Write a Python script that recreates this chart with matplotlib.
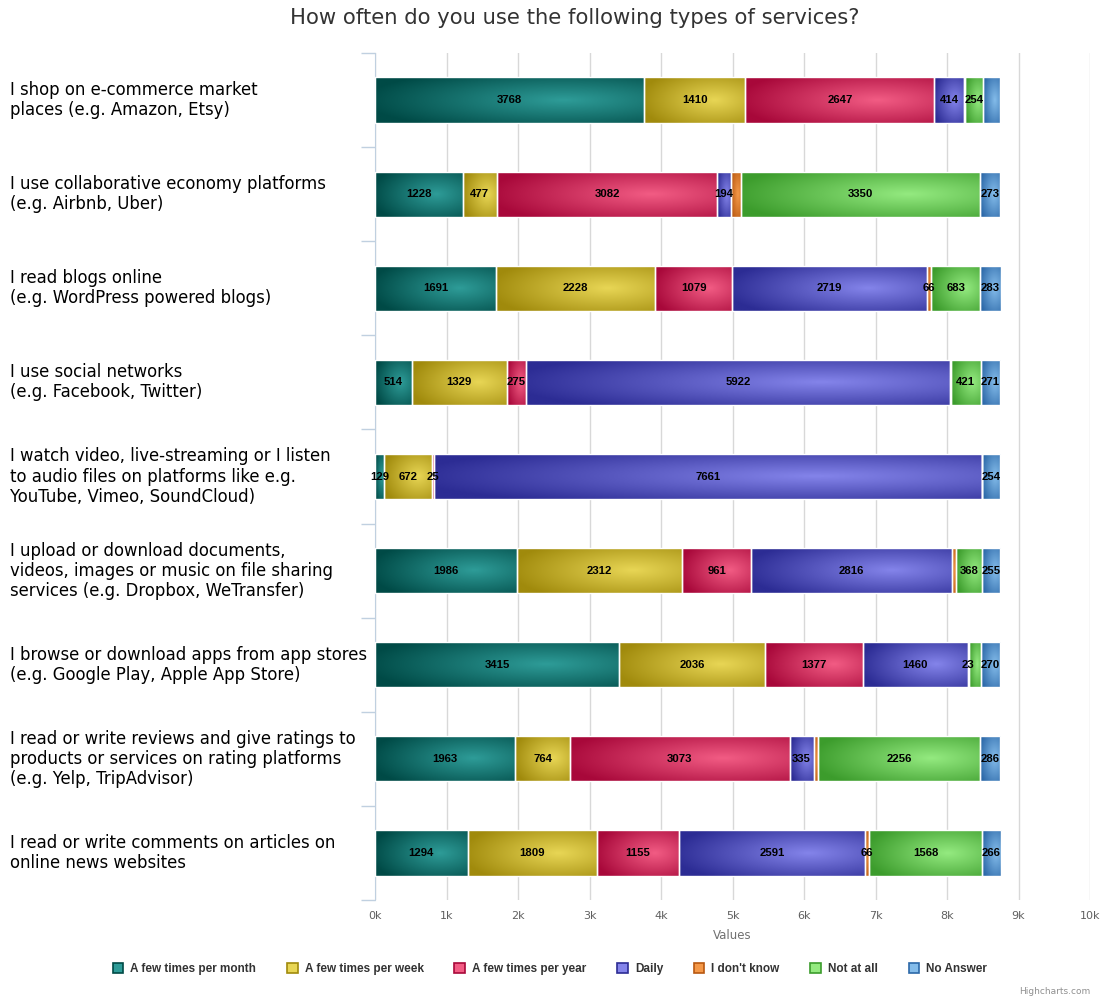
import numpy as np
import matplotlib
matplotlib.use("Agg")
import matplotlib.pyplot as plt
from matplotlib.colors import LinearSegmentedColormap
from matplotlib.patches import Patch
import matplotlib.transforms as mtransforms

categories = [
    "I shop on e-commerce market\nplaces (e.g. Amazon, Etsy)",
    "I use collaborative economy platforms\n(e.g. Airbnb, Uber)",
    "I read blogs online\n(e.g. WordPress powered blogs)",
    "I use social networks\n(e.g. Facebook, Twitter)",
    "I watch video, live-streaming or I listen\nto audio files on platforms like e.g.\nYouTube, Vimeo, SoundCloud)",
    "I upload or download documents,\nvideos, images or music on file sharing\nservices (e.g. Dropbox, WeTransfer)",
    "I browse or download apps from app stores\n(e.g. Google Play, Apple App Store)",
    "I read or write reviews and give ratings to\nproducts or services on rating platforms\n(e.g. Yelp, TripAdvisor)",
    "I read or write comments on articles on\nonline news websites",
]

series_names = ["A few times per month", "A few times per week", "A few times per year",
                "Daily", "I don't know", "Not at all", "No Answer"]

per_month = [3768, 1228, 1691, 514, 129, 1986, 3415, 1963, 1294]
per_week = [1410, 477, 2228, 1329, 672, 2312, 2036, 764, 1809]
per_year = [2647, 3082, 1079, 275, 25, 961, 1377, 3073, 1155]
daily = [414, 194, 2719, 5922, 7661, 2816, 1460, 335, 2591]
dont_know = [10, 136, 66, 9, 0, 45, 23, 64, 66]
not_at_all = [254, 3350, 683, 421, 0, 368, 160, 2256, 1568]
no_answer = [237, 273, 283, 271, 254, 255, 270, 286, 266]

# labels highcharts dropped (overlap)
hidden_labels = [(0, 4), (0, 6), (1, 4), (3, 4), (5, 4), (6, 5), (7, 4)]

# (edge colour, centre colour) for the radial gradient look
colors = [
    ("#004a46", "#2e9c98"),
    ("#a08a0c", "#e8d655"),
    ("#a8083a", "#f25c84"),
    ("#2c2c94", "#8484ea"),
    ("#b85810", "#f49848"),
    ("#3c9c2c", "#94ea80"),
    ("#2c68a8", "#84bcea"),
]

data = [per_month, per_week, per_year, daily, dont_know, not_at_all, no_answer]

fig = plt.figure(figsize=(11, 10), dpi=100)
ax = fig.add_axes([375 / 1100, 0.1, 715 / 1100, 0.847])

y = np.arange(len(categories))
left = np.zeros(len(categories))

# radial gradient grid
u, v = np.meshgrid(np.linspace(0, 1, 120), np.linspace(0, 1, 40))
dist = np.clip(np.sqrt((u - 0.7) ** 2 + (v - 0.5) ** 2) / 0.75, 0, 1)

for i, (vals, name) in enumerate(zip(data, series_names)):
    vals = np.array(vals, dtype=float)
    cmap = LinearSegmentedColormap.from_list(name, [colors[i][1], colors[i][0]])
    bars = ax.barh(y, vals, left=left, height=0.48, facecolor="none",
                   edgecolor="white", linewidth=1, zorder=3)
    for j, bar in enumerate(bars):
        if vals[j] <= 0:
            continue
        x0, y0 = bar.get_x(), bar.get_y()
        w, h = bar.get_width(), bar.get_height()
        im = ax.imshow(dist, cmap=cmap, vmin=0, vmax=1, aspect="auto",
                       extent=[x0, x0 + w, y0 + h, y0], zorder=2,
                       interpolation="bilinear")
        im.set_clip_path(bar)
        if (j, i) not in hidden_labels:
            ax.text(x0 + w / 2, j, f"{int(vals[j])}", ha="center", va="center",
                    fontsize=8.2, fontweight="bold", family="Liberation Sans",
                    color="black", zorder=4)
    left += vals

ax.set_xlim(0, 10000)
ax.set_ylim(len(categories) - 0.5, -0.5)
ax.set_xticks(np.arange(0, 10001, 1000))
ax.set_xticklabels([f"{k}k" for k in range(11)], color="#606060", fontsize=8)
ax.tick_params(axis="x", length=0, pad=8)
ax.set_xlabel("Values", color="#707070", fontsize=8.5, labelpad=6)
ax.grid(axis="x", color="#d8d8d8", linewidth=1, zorder=0)
ax.set_axisbelow(True)

ax.set_yticks(np.arange(-0.5, len(categories), 1.0))
ax.set_yticklabels([])
ax.tick_params(axis="y", length=10, color="#c0d0e0", width=1)
for side in ["top", "right", "bottom"]:
    ax.spines[side].set_visible(False)
ax.spines["left"].set_color("#c0d0e0")

trans = mtransforms.blended_transform_factory(fig.transFigure, ax.transData)
for j, cat in enumerate(categories):
    ax.text(10 / 1100, j, cat, transform=trans, ha="left", va="center",
            fontsize=11.9, color="black", linespacing=1.15, family="DejaVu Sans")

fig.text(575 / 1100, 1 - 18 / 1000, "How often do you use the following types of services?",
         ha="center", va="center", fontsize=15.2, color="#333333", family="DejaVu Sans")

handles = [Patch(facecolor=c[1], edgecolor=c[0], linewidth=1.2) for c in colors]
leg = fig.legend(handles, series_names, loc="center", bbox_to_anchor=(0.5, 1 - 969 / 1000),
                 ncol=7, frameon=False, handlelength=0.9, handleheight=0.9,
                 handletextpad=0.6, columnspacing=2.6,
                 prop={"family": "Liberation Sans", "weight": "bold", "size": 8.5})
for t in leg.get_texts():
    t.set_color("#333333")

fig.text(1090 / 1100, 1 - 992 / 1000, "Highcharts.com", ha="right", va="center",
         fontsize=6.5, color="#909090")

fig.savefig("out.png", dpi=100)
